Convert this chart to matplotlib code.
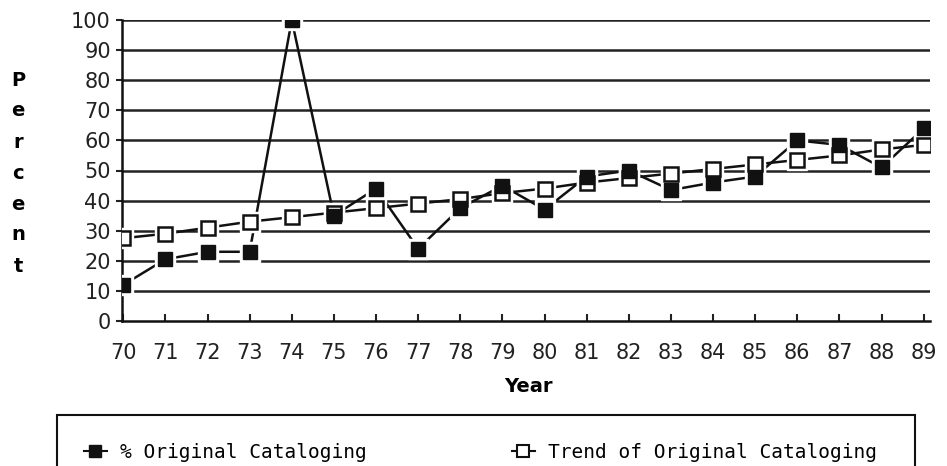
import matplotlib.pyplot as plt
from matplotlib.patches import Rectangle

# Years (tick labels) and values
years = list(range(70, 90))
year_labels = [str(y) for y in years]

# % Original Cataloging (filled squares)
original = [12, 20.5, 23, 23, 100, 35, 44, 24, 37.5, 45, 37, 48, 50, 43.5, 46, 48, 60, 58.5, 51, 64]

# Trend of Original Cataloging (open squares)
trend = [27.5, 29, 31, 33, 34.5, 36, 37.5, 39, 40.5, 42.5, 44, 46, 47.5, 49, 50.5, 52, 53.5, 55, 57, 58.5]

fig = plt.figure(figsize=(9.47, 4.66), dpi=100)
ax = fig.add_axes([122 / 947, 1 - 321 / 466, (930 - 122) / 947, (321 - 20) / 466])

# grid lines at every 10
for v in range(10, 101, 10):
    ax.axhline(v, color='#222222', lw=1.8, zorder=1)

# connecting lines
ax.plot(years, original, color='#111111', lw=1.8, zorder=2)
ax.plot(years, trend, color='#111111', lw=1.8, zorder=2)

# white halos around the markers (gaps in lines like the original)
ax.plot(years, original, 's', ms=14, color='white', mec='white', zorder=3)
ax.plot(years, trend, 's', ms=14, color='white', mec='white', zorder=3)

# markers
ax.plot(years, trend, 's', ms=9.5, mfc='white', mec='#111111', mew=1.8, zorder=4)
ax.plot(years, original, 's', ms=9.5, mfc='#111111', mec='#111111', zorder=5)

ax.set_xlim(69.97, 89.15)
ax.set_ylim(0, 100)
ax.set_yticks(range(0, 101, 10))
ax.set_xticks(years)
ax.set_xticklabels(year_labels)

for s in ['top', 'right']:
    ax.spines[s].set_visible(False)
ax.spines['left'].set_linewidth(1.8)
ax.spines['bottom'].set_linewidth(1.8)
ax.spines['left'].set_color('#111111')
ax.spines['bottom'].set_color('#111111')

ax.tick_params(axis='y', direction='out', length=4, width=1.5, labelsize=15, pad=4, colors='#222222')
ax.tick_params(axis='x', direction='in', length=5, width=1.5, labelsize=15, pad=16, colors='#222222')

# axis titles
fig.text(528 / 947, 1 - 386 / 466, 'Year', ha='center', va='center', fontsize=14, fontweight='heavy')
for i, ch in enumerate('Percent'):
    fig.text(18 / 947, 1 - (80 + i * 31) / 466, ch, ha='center', va='center', fontsize=14, fontweight='heavy')

# legend box
fig.add_artist(Rectangle((57 / 947, -0.05), (915 - 57) / 947, 1 - 415 / 466 + 0.05,
                         transform=fig.transFigure, fill=False, ec='#111111', lw=1.5))

# legend entries
h1, = ax.plot([], [], '-s', color='#111111', ms=9, lw=1.5)
h2, = ax.plot([], [], '-s', color='#111111', mfc='white', ms=9, mew=1.5, lw=1.5)
mono = {'family': 'DejaVu Sans Mono', 'size': 14}
fig.legend([h1], ['% Original Cataloging'], loc='center left',
           bbox_to_anchor=(66 / 947, 1 - 452 / 466), prop=mono, frameon=False,
           handlelength=1.2, handletextpad=0.7)
fig.legend([h2], ['Trend of Original Cataloging'], loc='center left',
           bbox_to_anchor=(494 / 947, 1 - 452 / 466), prop=mono, frameon=False,
           handlelength=1.2, handletextpad=0.7)

plt.savefig('out.png', dpi=100)
